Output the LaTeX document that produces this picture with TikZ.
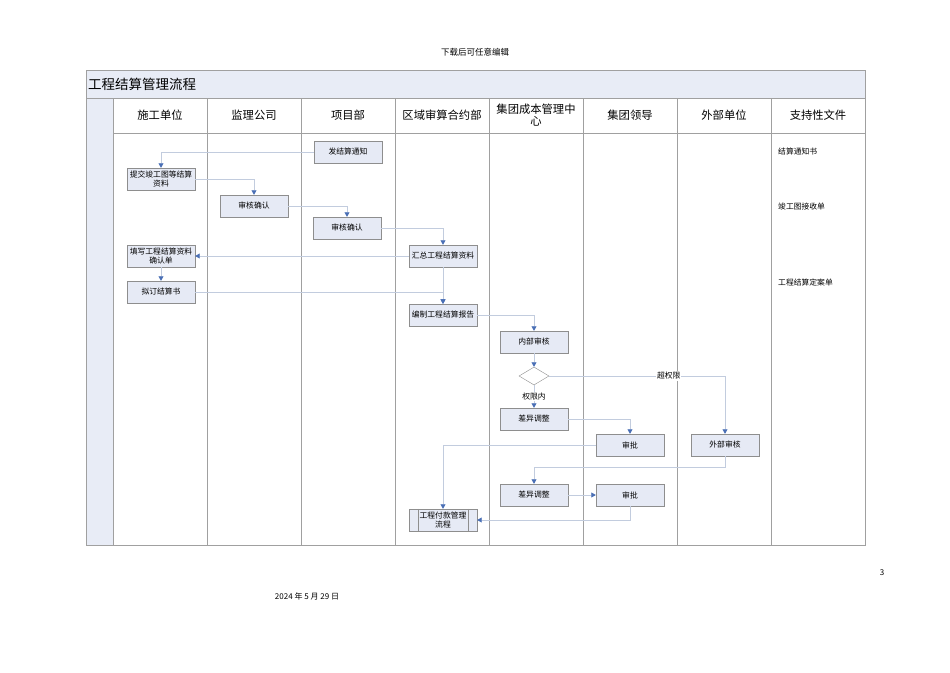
\documentclass[tikz,border=0pt]{standalone}
\usepackage{fontspec}
\setmainfont{Noto Sans CJK SC}
\usepackage{tikz}
\usetikzlibrary{shapes.geometric}
\usetikzlibrary{arrows.meta}
\usetikzlibrary{calc}

\definecolor{boxfill}{HTML}{E6EAF5}
\definecolor{boxline}{HTML}{8E8E8E}
\definecolor{flowline}{HTML}{C2CCDE}
\definecolor{tipblue}{HTML}{4A6FB5}
\definecolor{lanefill}{HTML}{E8ECF6}
\definecolor{laneline}{HTML}{A0A0A0}

\tikzset{
  proc/.style={draw=boxline, fill=boxfill, minimum width=68pt, minimum height=22pt,
    inner sep=1pt, align=center, font=\fontsize{7.8}{9.5}\selectfont},
  flow/.style={draw=flowline, line width=0.6pt, -{Triangle[color=tipblue,length=4.5pt,width=5pt]}},
  lane/.style={draw=laneline, line width=0.6pt},
  small/.style={font=\fontsize{7.8}{9.5}\selectfont, inner sep=1pt},
}

\begin{document}
\begin{tikzpicture}[x=1pt,y=-1pt]
\useasboundingbox (0,0) rectangle (950,672);

% frame and lanes
\fill[lanefill] (86,70) rectangle (865,98);
\fill[lanefill] (86,98) rectangle (113,545);
\draw[lane] (86,70) rectangle (865,545);
\draw[lane] (86,98) -- (865,98);
\draw[lane] (113,133) -- (865,133);
\foreach \x in {113,207,...,771}
    \draw[lane] (\x,98) -- (\x,545);

\node[anchor=west, font=\fontsize{13.5}{15}\selectfont, inner sep=1pt] (title) at (87,84) {工程结算管理流程};
\foreach \t [count=\i] in {施工单位,监理公司,项目部,区域审算合约部,{集团成本管理中\\心},集团领导,外部单位,支持性文件}
    \node[align=center, font=\fontsize{11.3}{12}\selectfont, inner sep=0pt] (h\i) at ({113+94*(\i-1)+47},115) {\t};

% process boxes
\node[proc] (notice) at (348,152) {发结算通知};
\node[proc] (submit) at (161,179) {提交竣工图等结算\\资料};
\node[proc] (chk1) at (254,206) {审核确认};
\node[proc] (chk2) at (347,228) {审核确认};
\node[proc] (sum) at (443,256) {汇总工程结算资料};
\node[proc] (fill) at (161,256) {填写工程结算资料\\确认单};
\node[proc] (draft) at (161,292) {拟订结算书};
\node[proc] (report) at (443,315) {编制工程结算报告};
\node[proc] (inner) at (534,342) {内部审核};
\node[diamond, draw=boxline, fill=white, minimum width=30pt, minimum height=18pt, inner sep=0pt] (gate) at (534,376) {};
\node[proc] (adj1) at (534,419) {差异调整};
\node[proc] (ok1) at (630,445) {审批};
\node[proc] (ext) at (725,445) {外部审核};
\node[proc] (adj2) at (534,495) {差异调整};
\node[proc] (ok2) at (630,495) {审批};
\node[proc] (pay) at (443,520) {工程付款管理\\流程};
\draw[boxline] ([xshift=9pt]pay.north west) -- ([xshift=9pt]pay.south west);
\draw[boxline] ([xshift=-9pt]pay.north east) -- ([xshift=-9pt]pay.south east);

% connectors
\draw[flow] (notice.west) -| (submit.north);
\draw[flow] (submit.east) -| (chk1.north);
\draw[flow] (chk1.east) -| (chk2.north);
\draw[flow] (chk2.east) -| (sum.north);
\draw[flow] (sum.west) -- (fill.east);
\draw[flow] (fill.south) -- (draft.north);
\draw[flow] (sum.south) -- (report.north);
\draw[flow] (draft.east) -| (report.north);
\draw[flow] (report.east) -| (inner.north);
\draw[flow] (inner.south) -- (gate.north);
\draw[flow] (gate.south) -- node[small, fill=white] (inlabel) {权限内} (adj1.north);
\draw[flow] (gate.east) -| node[small, fill=white, pos=0.34] (outlabel) {超权限} (ext.north);
\draw[flow] (adj1.east) -| (ok1.north);
\draw[flow] (ok1.west) -| (pay.north);
\draw[flow] (ext.south) -- ++(0,11) -| (adj2.north);
\draw[flow] (adj2.east) -- (ok2.west);
\draw[flow] (ok2.south) |- (pay.east);

% support documents
\node[small, anchor=west] (doc1) at (777,152) {结算通知书};
\node[small, anchor=west] (doc2) at (777,207) {竣工图接收单};
\node[small, anchor=west] (doc3) at (777,283) {工程结算定案单};

% page texts
\node[font=\fontsize{8.5}{10}\selectfont] (head) at (475,52) {下载后可任意编辑};
\node[font=\fontsize{8}{10}\selectfont] (page) at (882,573) {3};
\node[font=\fontsize{8}{10}\selectfont] (date) at (307,596) {2024 年 5 月 29 日};
\end{tikzpicture}
\end{document}
